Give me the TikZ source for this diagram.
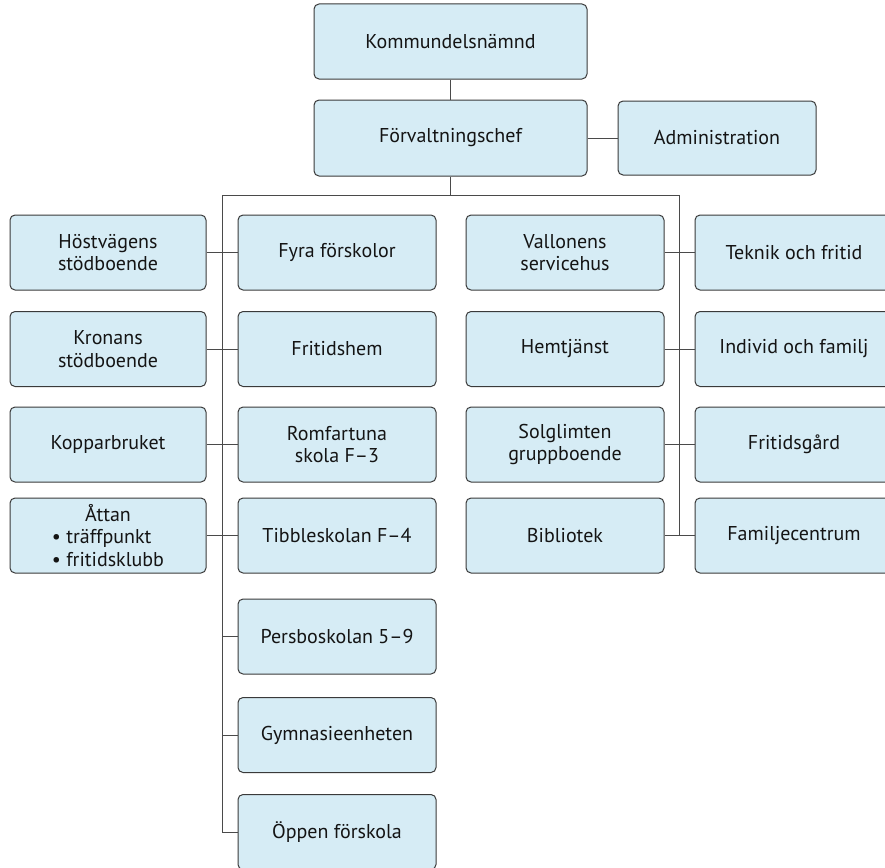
\documentclass[tikz,border=0pt]{standalone}
\usepackage{fontspec}
\setmainfont{PT Sans}
\usepackage{calc}
\definecolor{boxfill}{HTML}{D6ECF5}
\definecolor{boxline}{HTML}{3A3A3A}
\definecolor{connc}{HTML}{4A4A4A}
\begin{document}
\begin{tikzpicture}[x=1pt,y=-1pt,
  orgbox/.style={draw=boxline, fill=boxfill, line width=1pt, rounded corners=5pt,
    minimum width=198pt, minimum height=75pt, align=center, inner sep=0pt,
    font=\fontsize{20}{22.5}\selectfont, text=black!92},
  wide/.style={minimum width=273pt},
  conn/.style={draw=connc, line width=1pt}]
\clip (0,0) rectangle (885,867);
% top
\node[orgbox,wide] (komm) at (450.5,41.5) {Kommundelsnämnd};
\node[orgbox,wide,minimum height=76pt] (forv) at (450.5,138) {Förvaltningschef};
\node[orgbox,minimum height=74pt] (admin) at (717,138) {Administration};
% left column
\node[orgbox,minimum width=196pt] (host) at (108,252.5) {Höstvägens\\stödboende};
\node[orgbox,minimum width=196pt] (kron) at (108,349) {Kronans\\stödboende};
\node[orgbox,minimum width=196pt] (kopp) at (108,444.5) {Kopparbruket};
\node[orgbox,minimum width=196pt] (attan) at (108,535.5) {Åttan\\\makebox[\widthof{\textbullet\ fritidsklubb}][l]{\textbullet\ träffpunkt}\\\textbullet\ fritidsklubb};
% mid-left column
\node[orgbox] (fyra) at (337,252.5) {Fyra förskolor};
\node[orgbox] (frit) at (337,349) {Fritidshem};
\node[orgbox] (romf) at (337,444.5) {Romfartuna\\skola F–3};
\node[orgbox] (tibb) at (337,535.5) {Tibbleskolan F–4};
\node[orgbox] (pers) at (337,636.5) {Persboskolan 5–9};
\node[orgbox] (gymn) at (337,735) {Gymnasieenheten};
\node[orgbox] (oppe) at (337,832) {Öppen förskola};
% mid-right column
\node[orgbox] (vall) at (565,252.5) {Vallonens\\servicehus};
\node[orgbox] (hemt) at (565,349) {Hemtjänst};
\node[orgbox] (solg) at (565,444.5) {Solglimten\\gruppboende};
\node[orgbox] (bibl) at (565,535.5) {Bibliotek};
% right column
\node[orgbox] (tekn) at (794,252.5) {Teknik och fritid};
\node[orgbox] (indi) at (794,349) {Individ och familj};
\node[orgbox] (fgrd) at (794,444.5) {Fritidsgård};
\node[orgbox] (fami) at (794,535.5) {Familjecentrum};
% connectors
\coordinate (busL) at (222,195);
\coordinate (busR) at (679,195);
\draw[conn] (komm) -- (forv);
\draw[conn] (forv) -- (admin);
\draw[conn] (forv.south) -- (forv.south |- busL);
\draw[conn] (busL |- oppe.west) -- (busL) -- (busR) -- (busR |- bibl.east);
\draw[conn] (host) -- (fyra);
\draw[conn] (kron) -- (frit);
\draw[conn] (kopp) -- (romf);
\draw[conn] (attan) -- (tibb);
\draw[conn] (busL |- pers.west) -- (pers);
\draw[conn] (busL |- gymn.west) -- (gymn);
\draw[conn] (busL |- oppe.west) -- (oppe);
\draw[conn] (vall) -- (tekn);
\draw[conn] (hemt) -- (indi);
\draw[conn] (solg) -- (fgrd);
\draw[conn] (bibl) -- (fami);
\end{tikzpicture}
\end{document}
